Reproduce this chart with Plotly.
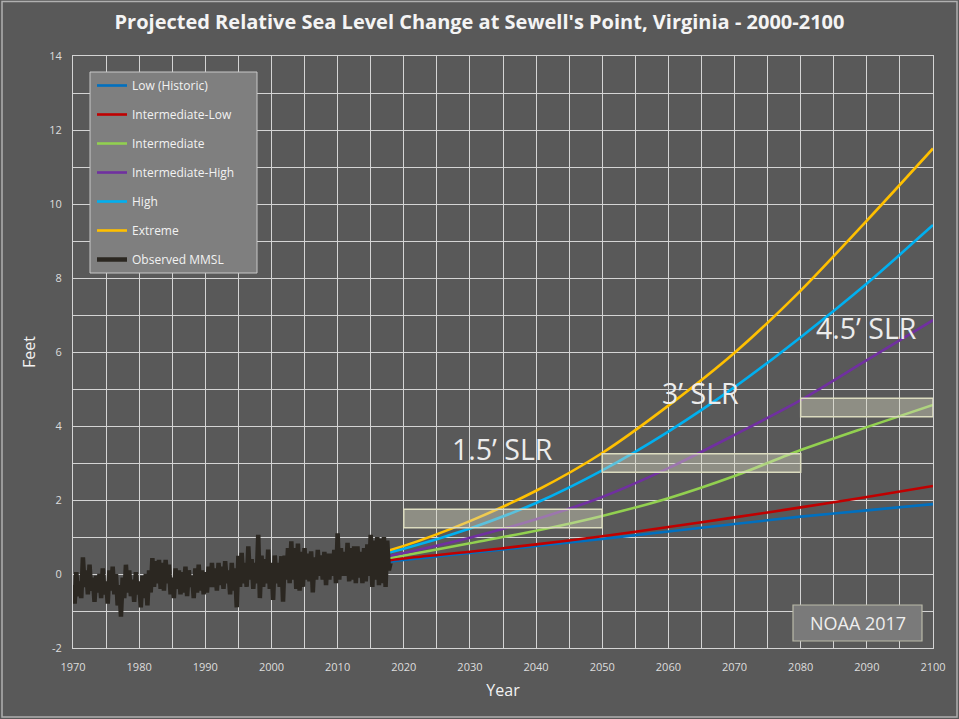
import plotly.graph_objects as go

# ---------------- data ----------------
proj_years = [2000, 2010, 2020, 2030, 2040, 2050, 2060, 2070, 2080, 2090, 2100]
low_hist = [0.0, 0.17, 0.38, 0.57, 0.76, 0.95, 1.15, 1.35, 1.55, 1.72, 1.89]
int_low = [0.0, 0.19, 0.42, 0.60, 0.80, 1.02, 1.27, 1.53, 1.80, 2.08, 2.38]
intermediate = [0.0, 0.21, 0.50, 0.83, 1.17, 1.57, 2.05, 2.65, 3.35, 3.97, 4.57]
int_high = [0.0, 0.23, 0.57, 0.98, 1.48, 2.08, 2.86, 3.76, 4.70, 5.78, 6.86]
high = [0.0, 0.26, 0.68, 1.23, 1.92, 2.80, 3.85, 5.05, 6.40, 7.85, 9.43]
extreme = [0.0, 0.28, 0.76, 1.43, 2.25, 3.27, 4.55, 5.98, 7.66, 9.55, 11.50]

obs_start = 1970.0
obs_step = 0.25
observed_mmsl = [
    -0.30, -0.80, 0.05, -0.60,
    -0.20, -0.65, 0.45, -0.35,
    0.10, -0.55, 0.25, -0.45,
    -0.10, -0.75, -0.05, -0.50,
    0.00, -0.65, 0.15, -0.55,
    -0.20, -0.80, 0.10, -0.45,
    0.20, -0.55, 0.00, -0.85,
    -0.30, -1.15, -0.10, -0.65,
    0.25, -0.50, 0.10, -0.60,
    -0.15, -0.75, 0.05, -0.55,
    -0.20, -0.90, -0.05, -0.65,
    0.00, -0.85, 0.10, -0.50,
    0.43, -0.35, 0.35, -0.25,
    0.38, -0.40, 0.30, -0.45,
    0.38, -0.25, 0.25, -0.55,
    -0.10, -0.65, 0.15, -0.40,
    0.10, -0.55, 0.05, -0.50,
    0.20, -0.60, 0.10, -0.35,
    -0.05, -0.65, 0.15, -0.50,
    0.25, -0.45, 0.10, -0.55,
    0.05, -0.50, 0.20, -0.35,
    0.30, -0.35, 0.15, -0.45,
    0.30, -0.30, 0.20, -0.40,
    0.35, -0.25, 0.10, -0.55,
    0.30, -0.45, 0.15, -0.90,
    0.49, -0.35, 0.57, -0.25,
    0.30, -0.35, 0.75, -0.15,
    0.40, -0.40, 0.30, -0.25,
    1.06, -0.65, 0.50, -0.35,
    0.40, -0.25, 0.66, -0.40,
    0.30, -0.70, 0.50, -0.25,
    0.30, -0.35, 0.48, -0.75,
    0.50, -0.15, 0.70, -0.25,
    0.88, -0.15, 0.70, -0.40,
    0.82, -0.45, 0.60, -0.35,
    0.70, -0.15, 0.55, -0.20,
    0.61, -0.50, 0.45, -0.15,
    0.65, -0.05, 0.50, -0.15,
    0.60, -0.30, 0.55, -0.15,
    0.55, -0.05, 0.65, -0.25,
    1.10, -0.15, 0.70, -0.05,
    0.60, -0.05, 0.84, -0.20,
    0.70, -0.15, 0.75, -0.25,
    0.75, -0.10, 0.60, -0.25,
    0.70, -0.20, 0.80, -0.05,
    1.06, -0.35, 0.90, -0.15,
    1.00, -0.30, 0.95, -0.25,
    1.00, -0.35, 0.90, 0.10,
    0.30,
]
obs_years = [obs_start + i * obs_step for i in range(len(observed_mmsl))]

slr_labels = ["1.5\u2019 SLR", "3\u2019 SLR", "4.5\u2019 SLR"]
slr_targets = [1.5, 3.0, 4.5]
slr_start = [2020, 2050, 2080]
slr_end = [2050, 2080, 2100]
slr_half_band = 0.25
slr_label_x = [2034.9, 2064.9, 2089.9]
slr_label_y = [3.38, 4.89, 6.65]

x_ticks = list(range(1970, 2101, 10))
y_ticks = list(range(-2, 15, 2))

# ---------------- figure ----------------
FONT = "Open Sans"
BG = "#595959"
GRID = "#d4d4d4"

series = [
    ("Low (Historic)", low_hist, "#0070c0"),
    ("Intermediate-Low", int_low, "#c00000"),
    ("Intermediate", intermediate, "#92d050"),
    ("Intermediate-High", int_high, "#7030a0"),
    ("High", high, "#00b0f0"),
    ("Extreme", extreme, "#ffc000"),
]

fig = go.Figure()
for i, (name, vals, col) in enumerate(series):
    fig.add_trace(go.Scatter(
        x=proj_years, y=vals, name=name, mode="lines",
        line=dict(color=col, width=2.6, shape="spline", smoothing=0.8),
        legendgroup=f"g{i}",
    ))
fig.add_trace(go.Scatter(
    x=obs_years, y=observed_mmsl, name="Observed MMSL", mode="lines",
    line=dict(color="#2b2721", width=4.5),
    legendgroup="g_obs",
))

shapes = []
for s, e, t in zip(slr_start, slr_end, slr_targets):
    shapes.append(dict(
        type="rect", xref="x", yref="y", x0=s, x1=e,
        y0=t - slr_half_band, y1=t + slr_half_band,
        fillcolor="rgba(218,218,192,0.42)",
        line=dict(color="#dcdcc0", width=1.5), layer="above",
    ))

# legend background box
shapes.append(dict(
    type="rect", xref="paper", yref="paper",
    x0=(90 - 73) / 860, x1=(257 - 73) / 860,
    y0=(648 - 273) / 592, y1=(648 - 72) / 592,
    fillcolor="#7f7f7f", line=dict(color="#c8c8c8", width=1), layer="above",
))
# NOAA box
shapes.append(dict(
    type="rect", xref="paper", yref="paper",
    x0=(793 - 73) / 860, x1=(922 - 73) / 860,
    y0=(648 - 641) / 592, y1=(648 - 605) / 592,
    fillcolor="#7a7a7a", line=dict(color="#b9b9a8", width=1.2), layer="above",
))
# outer chart border
shapes.append(dict(
    type="rect", xref="paper", yref="paper",
    x0=(2 - 73) / 860, x1=(957 - 73) / 860,
    y0=(648 - 717) / 592, y1=(648 - 1.5) / 592,
    fillcolor="rgba(0,0,0,0)", line=dict(color="#b0b0b0", width=1.5), layer="above",
))

annotations = []
for lab, lx, ly in zip(slr_labels, slr_label_x, slr_label_y):
    annotations.append(dict(
        x=lx, y=ly, xref="x", yref="y", text=lab, showarrow=False,
        xanchor="center", yanchor="middle",
        font=dict(family=FONT, size=28.5, color="#ececec"),
    ))
annotations.append(dict(
    x=(857.5 - 73) / 860, y=(648 - 623) / 592, xref="paper", yref="paper",
    text="NOAA 2017", showarrow=False, xanchor="center", yanchor="middle",
    font=dict(family=FONT, size=18, color="#eeeeee"),
))

fig.update_layout(
    width=959, height=719,
    margin=dict(l=73, r=26, t=56, b=71),
    paper_bgcolor=BG, plot_bgcolor=BG,
    title=dict(
        text="<b>Projected Relative Sea Level Change at Sewell's Point, Virginia - 2000-2100</b>",
        x=0.5, xanchor="center", y=1 - 22 / 719, yanchor="middle",
        font=dict(family=FONT, size=20, color="#f4f4f4"),
    ),
    xaxis=dict(
        range=[1970, 2100], tickvals=x_ticks, ticktext=[str(v) for v in x_ticks],
        showgrid=True, gridcolor=GRID, gridwidth=1,
        minor=dict(dtick=5, tick0=1970, showgrid=True, gridcolor=GRID, gridwidth=1),
        zeroline=False, showline=True, linecolor=GRID, mirror=True,
        ticklabelstandoff=9,
        tickfont=dict(family=FONT, size=11, color="#dddddd"),
        title=dict(text="Year", font=dict(family=FONT, size=16, color="#f2f2f2"), standoff=11),
    ),
    yaxis=dict(
        range=[-2, 14], tickvals=y_ticks, ticktext=[str(v) for v in y_ticks],
        showgrid=True, gridcolor=GRID, gridwidth=1,
        minor=dict(dtick=1, tick0=0, showgrid=True, gridcolor=GRID, gridwidth=1),
        zeroline=False, showline=True, linecolor=GRID, mirror=True,
        ticklabelstandoff=8,
        tickfont=dict(family=FONT, size=11, color="#dddddd"),
        title=dict(text="Feet", font=dict(family=FONT, size=16, color="#f2f2f2"), standoff=9),
    ),
    showlegend=True,
    legend=dict(
        x=(92 - 73) / 860, xanchor="left", y=(648 - 71) / 592, yanchor="top",
        bgcolor="rgba(0,0,0,0)", borderwidth=0,
        font=dict(family=FONT, size=12, color="#f2f2f2"),
        traceorder="grouped", tracegroupgap=10, itemwidth=30,
    ),
    shapes=shapes, annotations=annotations,
)

fig.write_html("out.html", config={"displayModeBar": False},
               post_script="document.body.style.margin='0px';")
